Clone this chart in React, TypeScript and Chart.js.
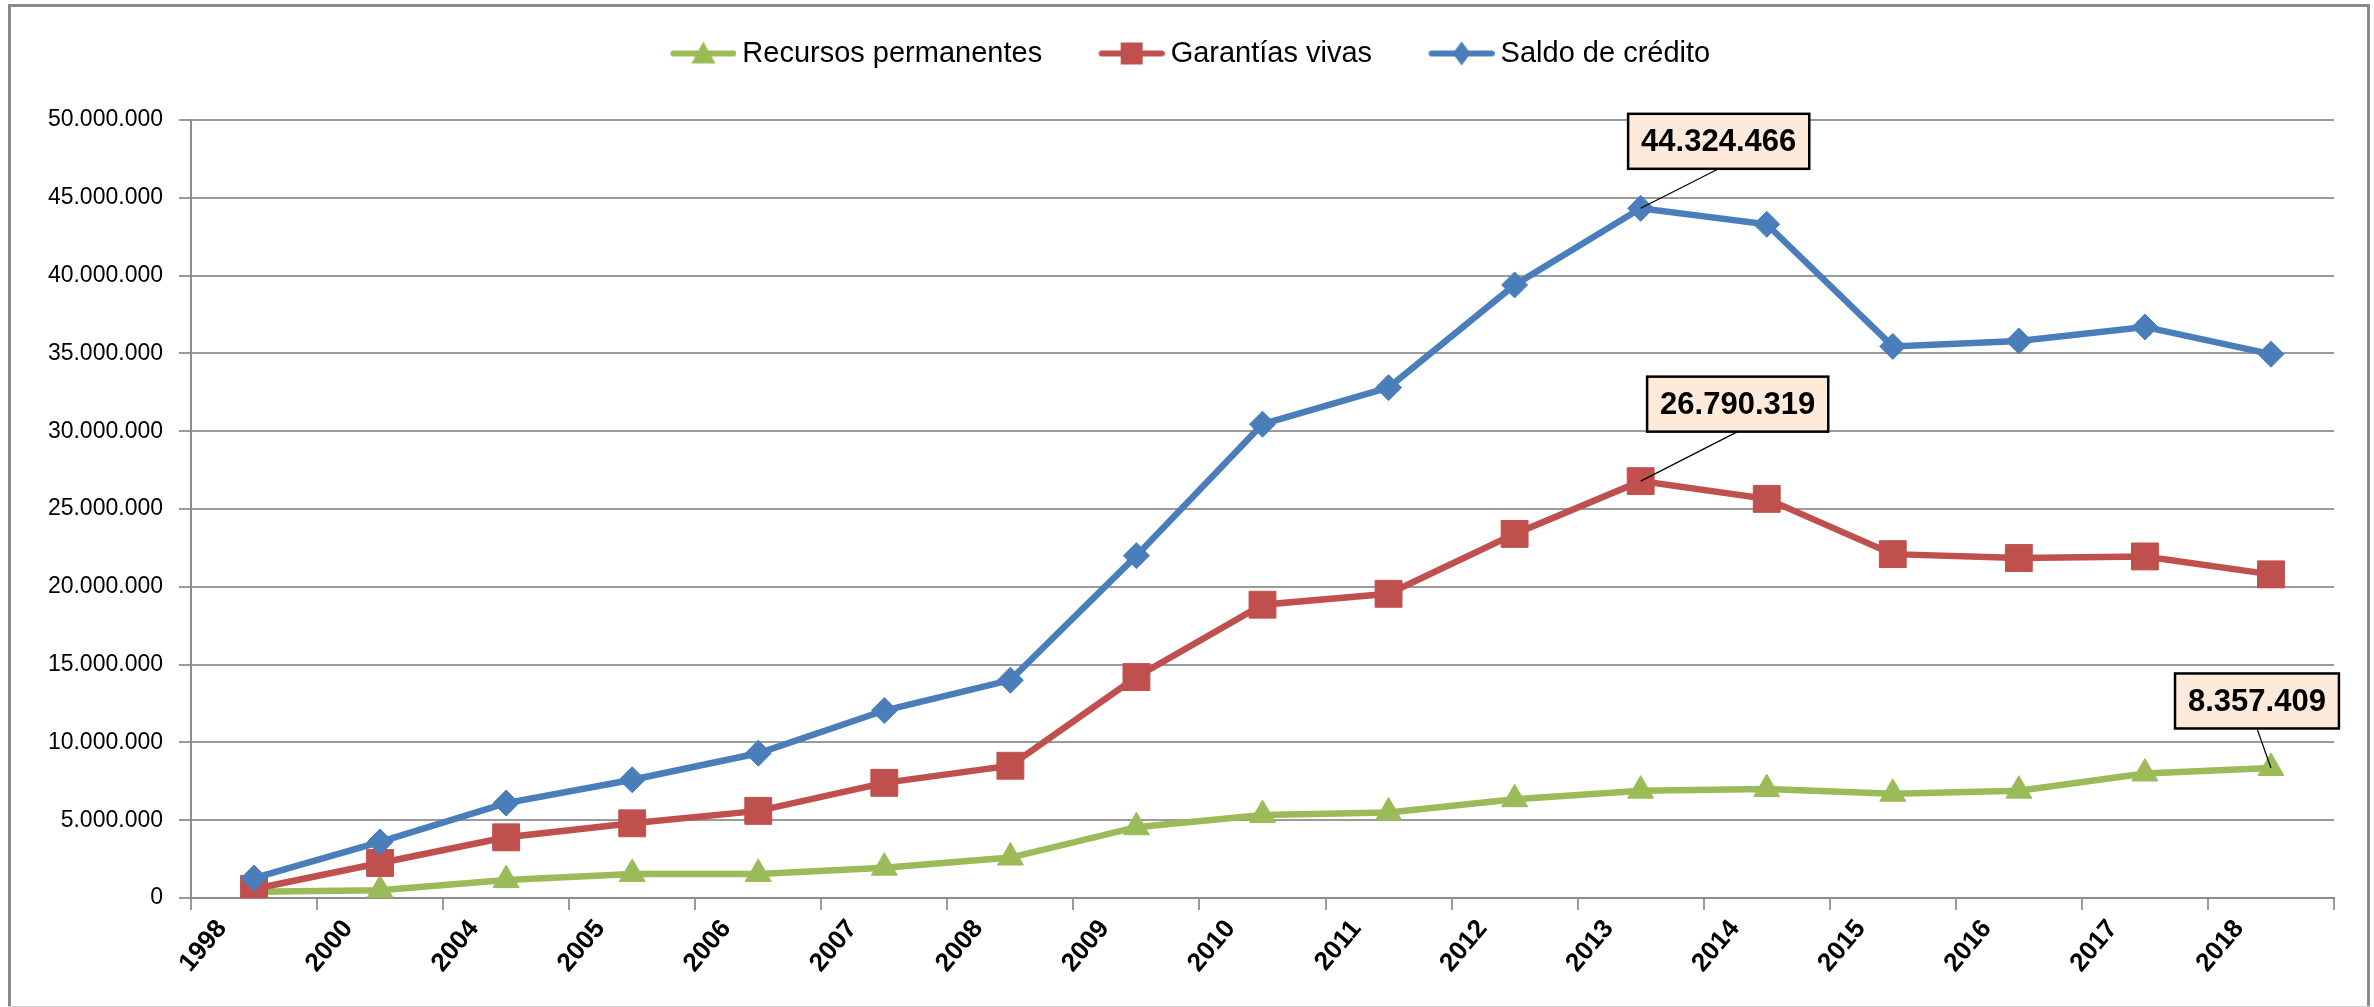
import React, { useEffect, useRef } from "react";
import { Chart, registerables } from "chart.js";

Chart.register(...registerables);

// ---------------- data ----------------
const years = ["1998", "2000", "2004", "2005", "2006", "2007", "2008", "2009", "2010", "2011", "2012", "2013", "2014", "2015", "2016", "2017", "2018"];
const seriesNames = ["Recursos permanentes", "Garantías vivas", "Saldo de crédito"];
const recursosPermanentes = [400000, 500000, 1150000, 1550000, 1550000, 1950000, 2600000, 4550000, 5330000, 5500000, 6350000, 6900000, 7000000, 6700000, 6900000, 8000000, 8357409];
const garantiasVivas = [580000, 2250000, 3900000, 4800000, 5600000, 7400000, 8500000, 14200000, 18850000, 19550000, 23400000, 26790319, 25650000, 22100000, 21850000, 21950000, 20800000];
const saldoCredito = [1280000, 3600000, 6100000, 7600000, 9300000, 12050000, 14000000, 22000000, 30450000, 32800000, 39400000, 44324466, 43300000, 35450000, 35800000, 36700000, 34950000];
const yMin = 0;
const yMax = 50000000;
const yStep = 5000000;
// callouts: which series / year carries a value box
const calloutSeries = [2, 1, 0];
const calloutYears = ["2013", "2013", "2018"];

// ---------------- styles ----------------
const FONT = '"Liberation Sans", Arial, sans-serif';
const COLORS = ["#9BBB59", "#C0504D", "#4A7EBB"];
const SHAPES = ["triangle", "rect", "rectRot"];
const RADII = [15, 19, 13];
const GRID = "#9a9a9a";
const AXIS = "#8c8c8c";
const LEGEND_FONT = 29;
const calloutOffsets = [
  { dx: 78, dy: -67 },
  { dx: 97, dy: -77 },
  { dx: -14, dy: -67 },
];

const fmt = (v: number) =>
  Math.round(v).toString().replace(/\B(?=(\d{3})+(?!\d))/g, ".");

function legendImage(color: string, shape: string) {
  const L = 55, lineLen = 66, W = L + lineLen, H = 28;
  const c = document.createElement("canvas");
  c.width = W;
  c.height = H;
  const g = c.getContext("2d")!;
  g.strokeStyle = color;
  g.lineWidth = 6;
  g.lineCap = "round";
  g.beginPath();
  g.moveTo(L + 3, H / 2);
  g.lineTo(W - 3, H / 2);
  g.stroke();
  const cx = L + lineLen / 2, cy = H / 2;
  g.fillStyle = color;
  g.beginPath();
  if (shape === "triangle") {
    g.moveTo(cx, cy - 12);
    g.lineTo(cx + 12, cy + 10);
    g.lineTo(cx - 12, cy + 10);
  } else if (shape === "rect") {
    g.rect(cx - 11, cy - 11, 22, 22);
  } else {
    g.moveTo(cx, cy - 12);
    g.lineTo(cx + 9, cy);
    g.lineTo(cx, cy + 12);
    g.lineTo(cx - 9, cy);
  }
  g.closePath();
  g.fill();
  return c;
}

const legendHeightPlugin = {
  id: "legendHeight",
  beforeLayout(chart: any) {
    const lg = chart.legend;
    if (lg && !lg.__patched) {
      const orig = lg.fit.bind(lg);
      lg.fit = function () {
        orig();
        this.height = 91;
      };
      lg.__patched = true;
    }
  },
};

const calloutPlugin = {
  id: "callouts",
  afterDatasetsDraw(chart: any) {
    const ctx = chart.ctx;
    calloutSeries.forEach((ds, k) => {
      const idx = years.indexOf(calloutYears[k]);
      const pt = chart.getDatasetMeta(ds).data[idx];
      const v = chart.data.datasets[ds].data[idx] as number;
      const text = fmt(v);
      ctx.save();
      ctx.font = `bold 31px ${FONT}`;
      const tw = ctx.measureText(text).width;
      const w = tw + 26, h = 55;
      const cx = pt.x + calloutOffsets[k].dx;
      const cy = pt.y + calloutOffsets[k].dy;
      ctx.strokeStyle = "#000";
      ctx.lineWidth = 1.2;
      ctx.beginPath();
      ctx.moveTo(pt.x, pt.y);
      ctx.lineTo(cx, cy + h / 2);
      ctx.stroke();
      ctx.fillStyle = "#FDEADA";
      ctx.fillRect(cx - w / 2, cy - h / 2, w, h);
      ctx.lineWidth = 2.5;
      ctx.strokeRect(cx - w / 2, cy - h / 2, w, h);
      ctx.fillStyle = "#000";
      ctx.textAlign = "center";
      ctx.textBaseline = "middle";
      ctx.fillText(text, cx, cy + 1);
      ctx.restore();
    });
  },
};

const borderPlugin = {
  id: "outerBorder",
  afterDraw(chart: any) {
    const ctx = chart.ctx;
    ctx.save();
    ctx.strokeStyle = "#8a8a8a";
    ctx.lineWidth = 3;
    ctx.strokeRect(9.5, 5.5, 2359, 1010);
    ctx.strokeStyle = "#d0d0d0";
    ctx.lineWidth = 1;
    ctx.beginPath();
    ctx.moveTo(8, 1006.5);
    ctx.lineTo(2370, 1006.5);
    ctx.stroke();
    ctx.restore();
  },
};

export default function App() {
  const ref = useRef<HTMLCanvasElement>(null);

  useEffect(() => {
    if (!ref.current) return;
    const values = [recursosPermanentes, garantiasVivas, saldoCredito];
    const images = COLORS.map((c, i) => legendImage(c, SHAPES[i]));
    const chart = new Chart(ref.current, {
      type: "line",
      data: {
        labels: years,
        datasets: seriesNames.map((name, i) => ({
          label: name,
          data: values[i],
          borderColor: COLORS[i],
          backgroundColor: COLORS[i],
          borderWidth: 6.5,
          pointStyle: SHAPES[i] as any,
          pointRadius: RADII[i],
          pointBorderWidth: 1,
          pointBackgroundColor: COLORS[i],
          pointBorderColor: COLORS[i],
          tension: 0,
          fill: false,
          order: 2 - i,
        })),
      },
      options: {
        responsive: false,
        animation: false,
        devicePixelRatio: 1,
        layout: { padding: { top: 29, left: 0, right: 40, bottom: 0 } },
        plugins: {
          legend: {
            position: "top",
            align: "center",
            labels: {
              usePointStyle: true,
              pointStyleWidth: 104,
              padding: 10,
              color: "#000",
              font: { family: FONT, size: LEGEND_FONT },
              generateLabels: (ch: any) => {
                const base = (Chart as any).defaults.plugins.legend.labels.generateLabels(ch);
                return base
                  .sort((a: any, b: any) => a.datasetIndex - b.datasetIndex)
                  .map((l: any) => ({ ...l, pointStyle: images[l.datasetIndex], rotation: 0 }));
              },
            },
          },
          tooltip: { enabled: false },
        },
        scales: {
          x: {
            offset: true,
            grid: { display: true, drawOnChartArea: false, offset: true, tickLength: 12, color: GRID, lineWidth: 2 },
            border: { color: AXIS, width: 2 },
            ticks: {
              autoSkip: false,
              minRotation: 50,
              maxRotation: 50,
              labelOffset: -32,
              color: "#000",
              padding: 4,
              font: { family: FONT, size: 26, weight: "bold" },
            },
            afterFit: (s: any) => {
              s.height = 109;
            },
          },
          y: {
            min: yMin,
            max: yMax,
            ticks: {
              stepSize: yStep,
              color: "#000",
              padding: 16,
              font: { family: FONT, size: 23 },
              callback: (v: any) => fmt(Number(v)),
            },
            grid: { color: GRID, lineWidth: 2, tickLength: 12 },
            border: { color: AXIS, width: 2 },
            afterFit: (s: any) => {
              s.width = 191;
            },
          },
        },
      },
      plugins: [legendHeightPlugin, calloutPlugin, borderPlugin],
    } as any);
    return () => chart.destroy();
  }, []);

  return (
    <div style={{ position: "absolute", left: 0, top: 0, width: 2374, height: 1007, background: "#fff" }}>
      <canvas ref={ref} width={2374} height={1007} style={{ width: 2374, height: 1007, display: "block" }} />
    </div>
  );
}
